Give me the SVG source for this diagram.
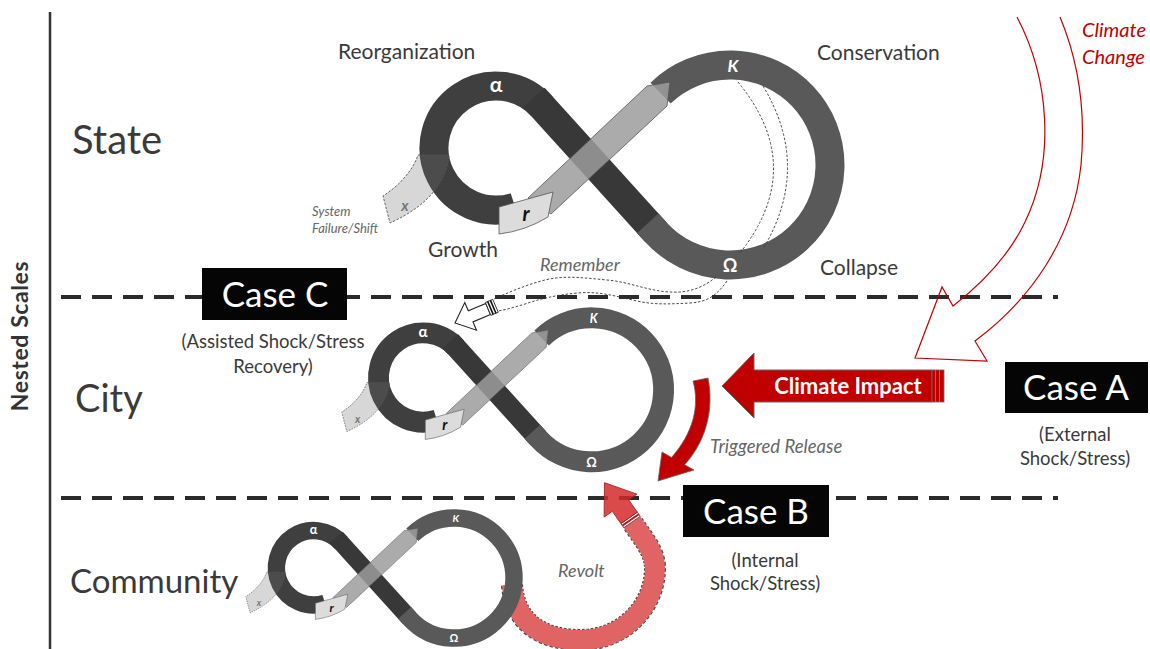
<svg xmlns="http://www.w3.org/2000/svg" xmlns:xlink="http://www.w3.org/1999/xlink" width="1150" height="649" viewBox="0 0 1150 649">
  <style>
    .lbl { font-family: Lato, 'Open Sans', sans-serif; fill: #3a3a3a; }
    .note { font-family: Lato, 'Open Sans', sans-serif; font-style: italic; fill: #666; }
    .case { font-family: Lato, 'Open Sans', sans-serif; fill: #fff; text-anchor: middle; }
    .sub { font-family: Lato, 'Open Sans', sans-serif; fill: #3a3a3a; text-anchor: middle; font-size: 18.5px; }
    .band { fill: none; stroke-width: 29; stroke-linecap: butt; }
    .glyph { font-family: Lato, 'Open Sans', sans-serif; font-weight: bold; fill: #fff; text-anchor: middle; }
    .dash-thin { fill: none; stroke: #333; stroke-width: 0.9; stroke-dasharray: 2.5 1.8; }
    .divider { stroke: #2b2b2b; stroke-width: 4; stroke-dasharray: 20 11; }
  </style>
  <defs>
    <!-- one adaptive cycle (figure eight), drawn at State size -->
    <g id="cycle">
      <!-- x : failure / shift branch, fill sits under the ring -->
      <path d="M 418,155 L 449,155 C 447,180 430,205 390,223 L 383,196 C 400,185 413,170 418,155 Z" fill="#d4d4d4"/>
      <!-- alpha loop -->
      <path class="band" stroke="#3f3f3f" d="M 515.16,206.96 A 62 62 0 1 1 541.95,106.37"/>
      <!-- omega to alpha back-loop diagonal -->
      <path class="band" stroke="#383838" d="M 533.9,97.5 L 655.89,232.14"/>
      <!-- K to omega conservation ring -->
      <path class="band" stroke="#595959" d="M 660.53,93.07 A 100 100 0 1 1 655.89,232.14 L 647.83,223.25"/>
      <!-- x outline crossing the ring -->
      <path d="M 418,155 L 449,155 C 447,180 430,205 390,223 L 383,196 C 400,185 413,170 418,155 Z" fill="#fff" fill-opacity="0.07" stroke="#555" stroke-width="0.9" stroke-dasharray="2.5 1.5"/>
      <!-- r to K front-loop arrow -->
      <path d="M 528,198 L 647,86 L 670,82 L 667,106 L 551,214 Z" fill="#9c9c9c" fill-opacity="0.85" stroke="#555" stroke-width="0.8"/>
      <path d="M 499,207 L 553,192 L 548,217 Q 525,231 499,234 Z" fill="#dcdcdc" stroke="#555" stroke-width="0.8"/>
      <!-- phase letters -->
      <text class="glyph" x="496" y="92" font-size="21">α</text>
      <text class="glyph" x="733" y="72" font-size="17" font-style="italic">K</text>
      <text class="glyph" x="730" y="272" font-size="18">Ω</text>
      <text x="405" y="211" font-family="Lato, sans-serif" font-size="15" font-weight="bold" font-style="italic" fill="#777" text-anchor="middle">x</text>
      <text x="526" y="221" font-family="Lato, sans-serif" font-size="20" font-weight="bold" font-style="italic" fill="#111" text-anchor="middle">r</text>
    </g>
  </defs>

  <!-- scale axis -->
  <g id="axis">
    <line x1="50" y1="12" x2="50" y2="649" stroke="#333" stroke-width="2.5"/>
    <text transform="translate(28,336) rotate(-90)" text-anchor="middle" font-family="Lato, 'Open Sans', sans-serif" font-weight="bold" font-size="23" fill="#333" letter-spacing="0.6">Nested Scales</text>
  </g>

  <!-- scale dividers -->
  <g id="dividers">
    <line class="divider" x1="61" y1="297" x2="1058" y2="297"/>
    <line class="divider" x1="61" y1="498" x2="1058" y2="498"/>
  </g>

  <!-- scale names -->
  <g id="scale-labels">
    <text class="lbl" x="72" y="154" font-size="40">State</text>
    <text class="lbl" x="75" y="412" font-size="38">City</text>
    <text class="lbl" x="70" y="593" font-size="33">Community</text>
  </g>

  <!-- state cycle -->
  <g id="state-cycle">
    <use xlink:href="#cycle" href="#cycle"/>
    <path class="dash-thin" d="M 738,82 Q 808,167 740,253"/>
    <path class="dash-thin" d="M 763,86 Q 812,167 763,249"/>
    <text class="lbl" x="338" y="59" font-size="21">Reorganization</text>
    <text class="lbl" x="817" y="60" font-size="21">Conservation</text>
    <text class="lbl" x="428" y="257" font-size="21">Growth</text>
    <text class="lbl" x="820" y="275" font-size="21">Collapse</text>
    <text class="note" x="312" y="216" font-size="13" fill="#555">System</text>
    <text class="note" x="312" y="233" font-size="13" fill="#555">Failure/Shift</text>
  </g>

  <!-- city cycle -->
  <g id="city-cycle">
    <use xlink:href="#cycle" href="#cycle" transform="translate(66,271) scale(0.72)"/>
  </g>

  <!-- revolt arrow sits beneath the community ring -->
  <g id="revolt">
    <path d="M 512,585 C 515,625 545,640 580,640 C 625,640 655,605 655,568 C 655,550 640,535 632,522" fill="none" stroke="#444" stroke-width="22" stroke-dasharray="3 2"/>
    <path d="M 512,585 C 515,625 545,640 580,640 C 625,640 655,605 655,568 C 655,550 640,535 632,522" fill="none" stroke="#e06464" stroke-width="20"/>
    <g transform="translate(632,522) rotate(-125)">
      <rect x="0" y="-10" width="5" height="20" fill="#fff" stroke="#444" stroke-width="0.8"/>
      <rect x="1.5" y="-10" width="2" height="20" fill="#b02020"/>
      <path d="M 5,-10 L 20,-10 L 20,-20 L 48,0 L 20,20 L 20,10 L 5,10 Z" fill="#d42a2a" fill-opacity="0.85" stroke="#a02020" stroke-width="0.8"/>
    </g>
    <text class="note" x="558" y="577" font-size="18">Revolt</text>
  </g>

  <!-- community cycle -->
  <g id="community-cycle">
    <use xlink:href="#cycle" href="#cycle" transform="translate(16,479) scale(0.6)"/>
  </g>

  <!-- remember connector: state omega down to city alpha -->
  <g id="remember">
    <path class="dash-thin" d="M 716,277 C 700,290 685,293 670,292 C 648,291 630,282 607,280 C 585,278 565,275 545,280 C 525,285 505,294 494,299"/>
    <path class="dash-thin" d="M 727,281 C 715,298 705,302 690,303 C 670,304 655,305 637,301 C 615,296 598,291 578,293 C 555,295 540,299 525,304 C 512,308 504,310 498,311"/>
    <g transform="translate(455,323) rotate(-23)">
      <path d="M 0,0 L 17,-15 L 17,-6 L 36,-6 L 36,6 L 17,6 L 17,15 Z" fill="#fff" stroke="#222" stroke-width="1.1"/>
      <rect x="36" y="-7" width="8" height="14" fill="#fff" stroke="#222" stroke-width="0.8"/>
      <line x1="38.5" y1="-7" x2="38.5" y2="7" stroke="#111" stroke-width="1.6"/>
      <line x1="41.5" y1="-7" x2="41.5" y2="7" stroke="#111" stroke-width="1.6"/>
    </g>
    <text class="note" x="540" y="271" font-size="18">Remember</text>
  </g>

  <!-- climate change (outline arrow) -->
  <g id="climate-change">
    <path d="M 1017,17 C 1050,80 1055,160 1025,222 C 1008,258 980,285 953,306 L 942,287 L 915,358 L 987,361 L 975,341 C 1030,300 1073,240 1081,165 C 1086,110 1078,60 1060,17" fill="none" stroke="#c00000" stroke-width="1.2"/>
    <text x="1082" y="37" font-family="Lato, 'Open Sans', sans-serif" font-style="italic" font-size="20" fill="#c00000">Climate</text>
    <text x="1082" y="64" font-family="Lato, 'Open Sans', sans-serif" font-style="italic" font-size="20" fill="#c00000">Change</text>
  </g>

  <!-- climate impact arrow -->
  <g id="climate-impact">
    <path d="M 722,386 L 754,353 L 754,370 L 932,370 L 932,402 L 754,402 L 754,418 Z" fill="#c00000" stroke="#666" stroke-width="1"/>
    <rect x="932" y="370" width="12" height="32" fill="#c00000" stroke="#666" stroke-width="0.8"/>
    <line x1="935.5" y1="370" x2="935.5" y2="402" stroke="#777" stroke-width="1"/>
    <line x1="939.5" y1="370" x2="939.5" y2="402" stroke="#777" stroke-width="1"/>
    <text x="848" y="394" text-anchor="middle" font-family="Lato, 'Open Sans', sans-serif" font-weight="bold" font-size="22" fill="#fff">Climate Impact</text>
  </g>

  <!-- triggered release arrow -->
  <g id="triggered-release">
    <path d="M 693,381 C 700,406 693,433 671.6,457.4 L 662,452 L 658,481 L 694,470 L 684.7,464.7 C 707,440 714,408 708,378 Z" fill="#c00000" stroke="#666" stroke-width="0.8"/>
    <text class="note" x="710" y="453" font-size="18.5">Triggered Release</text>
  </g>

  <!-- case C -->
  <g id="case-c">
    <rect x="202" y="268" width="145" height="52" fill="#050505"/>
    <text class="case" x="275" y="307" font-size="35">Case C</text>
    <text class="sub" x="273" y="348">(Assisted Shock/Stress</text>
    <text class="sub" x="273" y="373">Recovery)</text>
  </g>

  <!-- case A -->
  <g id="case-a">
    <rect x="1005" y="362" width="143" height="51" fill="#050505"/>
    <text class="case" x="1076" y="400" font-size="35">Case A</text>
    <text class="sub" x="1075" y="441">(External</text>
    <text class="sub" x="1075" y="465">Shock/Stress)</text>
  </g>

  <!-- case B -->
  <g id="case-b">
    <rect x="683" y="485" width="146" height="52" fill="#050505"/>
    <text class="case" x="756" y="524" font-size="35">Case B</text>
    <text class="sub" x="765" y="567">(Internal</text>
    <text class="sub" x="765" y="590">Shock/Stress)</text>
  </g>
</svg>
